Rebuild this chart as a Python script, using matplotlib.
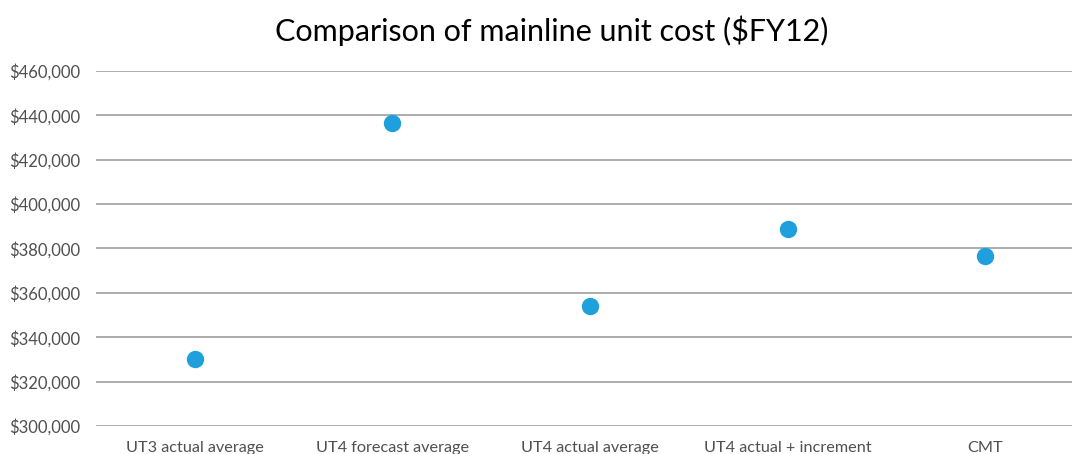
import matplotlib
matplotlib.use("Agg")
import matplotlib.pyplot as plt
from matplotlib.ticker import FuncFormatter, MultipleLocator

# 数据
categories = ["UT3 actual average", "UT4 forecast average", "UT4 actual average",
              "UT4 actual + increment", "CMT"]
unit_cost = [330200, 436600, 354000, 388800, 376600]

TITLE = "Comparison of mainline unit cost ($FY12)"
BLUE = "#1fa0dc"
GRID = "#a6a6a6"
TEXT = "#505050"

plt.rcParams["font.family"] = ["Lato", "DejaVu Sans"]

fig = plt.figure(figsize=(10.72, 4.54), dpi=100)
ax = fig.add_axes([96 / 1072, 28 / 454, 988 / 1072, 355 / 454])

xs = list(range(len(categories)))
ax.plot(xs, unit_cost, linestyle="None", marker="o", markersize=11.5,
        color=BLUE, zorder=3)

ax.set_xlim(-0.5, len(categories) - 0.5)
ax.set_ylim(300000, 460000)
ax.yaxis.set_major_locator(MultipleLocator(20000))
ax.yaxis.set_major_formatter(FuncFormatter(lambda v, _: f"${v:,.0f}"))
ax.set_xticks(xs)
ax.set_xticklabels(categories)

ax.grid(axis="y", color=GRID, linewidth=1.3)
ax.set_axisbelow(True)
for s in ax.spines.values():
    s.set_visible(False)
ax.tick_params(axis="y", length=0, labelsize=12, colors=TEXT, pad=11)
ax.tick_params(axis="x", length=0, labelsize=11.7, colors=TEXT, pad=11)

# 标题居中于整个图表区（右侧被裁掉一部分）
fig.text(552 / 1072, 0.933, TITLE, ha="center", va="center", fontsize=22, color="black")

fig.savefig("out.png", dpi=100)
